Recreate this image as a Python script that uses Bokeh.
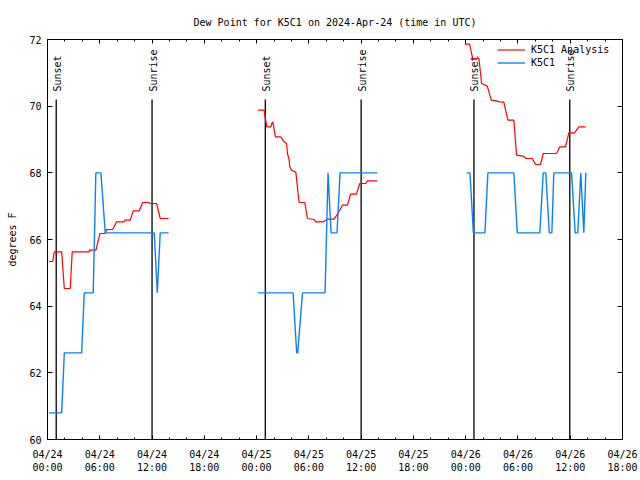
import math
from bokeh.plotting import figure
from bokeh.models import Range1d, FixedTicker, LinearAxis, Legend, LegendItem
from bokeh.embed import file_html
from bokeh.resources import INLINE
from bokeh.core.properties import value

NaN = float("nan")
FONT = "DejaVu Sans Mono"

title_text = "Dew Point for K5C1 on 2024-Apr-24 (time in UTC)"
y_label = "degrees F"

# time in hours after 2024-04-24 00:00 UTC; NaN separates the daily runs
analysis_hours = [
    0.17, 0.60, 0.78, 1.63, 1.93, 2.61, 2.84, 4.79, 4.82, 5.56, 6.02, 6.59, 6.79, 7.48,
    7.94, 8.81, 8.89, 9.50, 9.84, 10.53, 10.92, 11.67, 11.75, 12.52, 12.94, 13.90,
    NaN,
    24.17, 24.86, 25.17, 25.63, 25.75, 25.86, 26.17, 26.78, 27.16, 27.44, 27.55, 27.74,
    27.81, 28.01, 28.39, 28.50, 28.88, 29.53, 29.84, 30.60, 30.79, 31.67, 32.13, 32.89,
    33.28, 33.85, 34.43, 34.80, 35.46, 35.84, 36.52, 36.72, 37.87,
    NaN,
    47.88, 48.45, 48.80, 49.52, 49.83, 50.48, 50.94, 51.55, 51.90, 52.38, 52.84, 53.53,
    53.84, 54.61, 54.95, 55.64, 56.02, 56.59, 56.90, 58.43, 58.81, 59.46, 59.84, 60.49,
    60.99, 61.76,
]
analysis_dewpt = [
    65.34, 65.34, 65.63, 65.63, 64.53, 64.53, 65.63, 65.63, 65.68, 65.68, 66.18, 66.18, 66.30, 66.30,
    66.53, 66.53, 66.58, 66.58, 66.86, 66.86, 67.11, 67.11, 67.08, 67.08, 66.63, 66.63,
    NaN,
    69.88, 69.88, 69.38, 69.38, 69.48, 69.53, 69.08, 69.08, 68.93, 68.88, 68.58, 68.38,
    68.18, 68.08, 68.03, 68.03, 67.11, 67.11, 66.63, 66.60, 66.53, 66.53, 66.61, 66.61,
    66.76, 67.03, 67.03, 67.36, 67.36, 67.68, 67.68, 67.76, 67.76,
    NaN,
    71.86, 71.86, 71.43, 71.43, 70.68, 70.60, 70.18, 70.16, 70.13, 70.12, 69.58, 69.58,
    68.53, 68.50, 68.43, 68.43, 68.25, 68.25, 68.58, 68.58, 68.78, 68.78, 69.20, 69.20,
    69.38, 69.38,
]

obs_hours = [
    0.17, 1.63, 1.93, 3.92, 4.22, 5.25, 5.55, 6.13, 6.63, 12.25, 12.60, 12.94, 13.90,
    NaN,
    24.17, 28.19, 28.60, 28.72, 29.27, 31.86, 32.20, 32.55, 33.23, 33.58, 37.87,
    NaN,
    48.11, 48.49, 48.88, 50.21, 50.55, 53.53, 53.92, 56.51, 56.90, 57.20, 57.59, 57.89,
    58.12, 60.15, 60.57, 60.87, 61.21, 61.56, 61.79,
]
obs_dewpt = [
    60.8, 60.8, 62.6, 62.6, 64.4, 64.4, 68.0, 68.0, 66.2, 66.2, 64.4, 66.2, 66.2,
    NaN,
    64.4, 64.4, 62.6, 62.6, 64.4, 64.4, 68.0, 66.2, 66.2, 68.0, 68.0,
    NaN,
    68.0, 68.0, 66.2, 66.2, 68.0, 68.0, 66.2, 66.2, 68.0, 68.0, 66.2, 66.2,
    68.0, 68.0, 66.2, 66.2, 68.0, 66.2, 68.0,
]

sun_hours = [1.0, 12.0, 25.0, 36.0, 48.95, 59.95]
sun_labels = ["Sunset", "Sunrise", "Sunset", "Sunrise", "Sunset", "Sunrise"]

x_tick_hours = [0, 6, 12, 18, 24, 30, 36, 42, 48, 54, 60, 66]
x_tick_labels = ["04/24\n00:00", "04/24\n06:00", "04/24\n12:00", "04/24\n18:00",
                 "04/25\n00:00", "04/25\n06:00", "04/25\n12:00", "04/25\n18:00",
                 "04/26\n00:00", "04/26\n06:00", "04/26\n12:00", "04/26\n18:00"]
x_minor_hours = list(range(0, 67, 2))
y_ticks = [60, 62, 64, 66, 68, 70, 72]

X_START, X_END = 0, 66
Y_MIN, Y_MAX = 60, 72

p = figure(width=640, height=480, output_backend="svg", toolbar_location=None,
           x_range=Range1d(X_START, X_END), y_range=Range1d(Y_MIN, Y_MAX),
           x_axis_type=None, y_axis_type=None,
           min_border_left=47, min_border_right=18, min_border_top=39, min_border_bottom=41)
p.xgrid.visible = False
p.ygrid.visible = False
p.outline_line_color = "black"
p.outline_line_width = 1
p.background_fill_color = "white"
p.border_fill_color = "white"

p.title.text = title_text
p.title.align = "center"
p.title.text_font = FONT
p.title.text_font_size = "10px"
p.title.text_font_style = "normal"
p.title.text_color = "black"
p.title.standoff = 24


def style_axis(ax, major_in, minor_in, show_labels):
    ax.axis_line_color = "black"
    ax.major_tick_in = major_in
    ax.major_tick_out = 0
    ax.minor_tick_in = minor_in
    ax.minor_tick_out = 0
    ax.major_tick_line_color = "black"
    ax.minor_tick_line_color = "black"
    ax.major_label_text_font = FONT
    ax.major_label_text_font_size = "10px"
    ax.major_label_text_color = "black" if show_labels else None
    ax.axis_label_text_font = FONT
    ax.axis_label_text_font_size = "10px"
    ax.axis_label_text_font_style = "normal"
    ax.axis_label_text_color = "black"


xt = FixedTicker(ticks=x_tick_hours, minor_ticks=x_minor_hours)
yt = FixedTicker(ticks=y_ticks, minor_ticks=[])

xb = LinearAxis(ticker=xt)
style_axis(xb, 4, 2, True)
xb.major_label_overrides = {k: v for k, v in zip(x_tick_hours, x_tick_labels)}
xb.major_label_standoff = 9
p.add_layout(xb, "below")

xtop = LinearAxis(ticker=xt)
style_axis(xtop, 4, 2, False)
xtop.major_label_standoff = 0
p.add_layout(xtop, "above")

yl = LinearAxis(ticker=yt, axis_label=y_label)
style_axis(yl, 5, 0, True)
yl.major_label_standoff = 6
yl.axis_label_standoff = 8
p.add_layout(yl, "left")

yr = LinearAxis(ticker=yt)
style_axis(yr, 5, 0, False)
yr.major_label_standoff = 0
p.add_layout(yr, "right")

# sunrise / sunset markers
line_top = Y_MIN + 0.85 * (Y_MAX - Y_MIN)
label_y = Y_MIN + 0.87 * (Y_MAX - Y_MIN)
n = len(sun_hours)
p.segment(x0=sun_hours, y0=[Y_MIN] * n, x1=sun_hours, y1=[line_top] * n,
          line_color="black", line_width=1.3)
p.text(x=sun_hours, y=[label_y] * n, text=sun_labels, angle=math.pi / 2,
       text_align="left", text_baseline="middle", text_font=value(FONT),
       text_font_size="10px", text_color="black", x_offset=1)

r_an = p.line(analysis_hours, analysis_dewpt, line_color="#ff0000", line_width=1.2)
r_ob = p.line(obs_hours, obs_dewpt, line_color="#0a80ff", line_width=1.4)

legend = Legend(items=[LegendItem(label="K5C1 Analysis", renderers=[r_an]),
                       LegendItem(label="K5C1", renderers=[r_ob])],
                location=(450, 370))
legend.border_line_color = None
legend.background_fill_alpha = 0
legend.margin = 0
legend.padding = 4
legend.spacing = 0
legend.glyph_width = 28
legend.glyph_height = 13
legend.label_height = 13
legend.label_standoff = 6
legend.label_text_font = FONT
legend.label_text_font_size = "10px"
legend.label_text_color = "black"
p.add_layout(legend)

open("out.html", "w").write(file_html(p, INLINE))
